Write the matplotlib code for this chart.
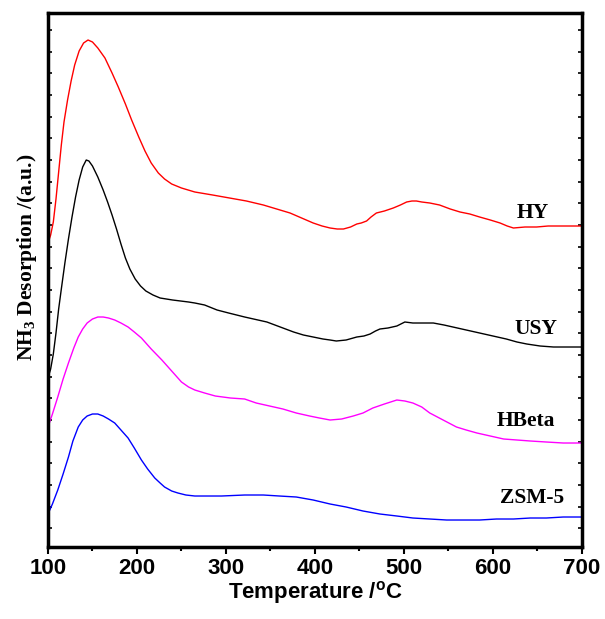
import numpy as np
import matplotlib
matplotlib.use("Agg")
import matplotlib.pyplot as plt
from matplotlib.ticker import MultipleLocator, FixedLocator, NullFormatter

# NH3-TPD curves (temperature in C, signal in a.u.)
hy_t = [100, 103, 106, 109, 112, 115, 118, 122, 126, 130, 135, 140, 145, 150, 156,
        164, 172, 179, 187, 194, 202, 209, 216, 224, 231, 239, 250, 265, 285, 304,
        323, 342, 357, 372, 385, 398, 408, 417, 425, 432, 440, 447, 452, 458, 463,
        469, 478, 488, 496, 503, 509, 514, 520, 529, 540, 552, 563, 574, 585, 597,
        608, 616, 623, 636, 649, 662, 675, 688, 700]
hy_y = [304, 312, 325, 348, 375, 402, 425, 447, 466, 482, 496, 504, 507, 505, 499,
        489, 474, 460, 443, 427, 410, 396, 384, 374, 368, 363, 359, 355, 352, 349,
        346, 342, 338, 334, 329, 324, 321, 319, 318, 318, 320, 323, 324, 326, 330,
        334, 336, 339, 342, 345, 346, 346, 345, 344, 342, 338, 335, 333, 330, 327,
        324, 321, 319, 320, 320, 321, 321, 321, 321]

usy_t = [100, 103, 106, 109, 112, 115, 119, 123, 127, 131, 135, 139, 143, 146, 150,
         156, 162, 167, 172, 177, 182, 187, 192, 198, 204, 210, 218, 226, 240, 258,
         265, 276, 290, 303, 321, 346, 364, 376, 387, 398, 409, 417, 424, 435, 447,
         455, 462, 468, 473, 482, 492, 501, 510, 518, 533, 545, 555, 570, 585, 600,
         615, 627, 638, 653, 668, 684, 700]
usy_y = [169, 178, 193, 214, 238, 258, 284, 308, 330, 350, 367, 380, 387, 386, 381,
         370, 357, 345, 332, 318, 303, 289, 278, 268, 261, 256, 252, 249, 247, 245,
         244, 242, 237, 234, 230, 225, 219, 215, 212, 210, 208, 207, 206, 207, 210,
         211, 213, 216, 218, 219, 221, 225, 224, 224, 224, 222, 220, 217, 214, 211,
         208, 205, 203, 201, 200, 200, 200]

hbeta_t = [100, 105, 111, 117, 123, 129, 134, 139, 144, 150, 156, 162, 168, 175, 182,
           190, 197, 205, 216, 228, 239, 250, 258, 265, 276, 288, 305, 321, 334, 349,
           364, 379, 394, 405, 417, 430, 443, 454, 465, 478, 492, 501, 510, 520, 529,
           544, 559, 570, 582, 597, 612, 627, 642, 660, 679, 700]
hbeta_y = [120, 133, 150, 168, 184, 199, 210, 218, 224, 228, 230, 230, 229, 227, 224,
           220, 215, 209, 198, 187, 176, 165, 160, 157, 154, 151, 149, 148, 144, 141,
           138, 134, 131, 129, 127, 128, 131, 134, 139, 143, 147, 146, 144, 140, 134,
           127, 120, 117, 114, 111, 108, 107, 106, 105, 104, 104]

zsm_t = [100, 105, 111, 117, 123, 128, 134, 139, 144, 150, 156, 162, 168, 175, 182,
         190, 197, 205, 212, 220, 226, 231, 239, 246, 255, 265, 280, 295, 321, 342,
         360, 379, 398, 417, 435, 454, 473, 492, 510, 529, 548, 567, 585, 604, 623,
         642, 660, 679, 700]
zsm_y = [33, 43, 57, 73, 90, 106, 120, 127, 131, 133, 133, 131, 128, 124, 117,
         109, 99, 87, 78, 69, 64, 60, 56, 54, 52, 51, 51, 51, 52, 52,
         51, 50, 47, 43, 40, 36, 33, 31, 29, 28, 27, 27, 27, 28, 28,
         29, 29, 30, 30]

names = ["HY", "USY", "HBeta", "ZSM-5"]
colors = ["#ff0000", "#000000", "#ff00ff", "#0000ff"]
label_x = [645, 648, 637, 644]
label_y = [334, 218, 126, 49]

plt.rcParams["mathtext.default"] = "regular"

fig = plt.figure(figsize=(6.05, 6.19), dpi=100)
ax = fig.add_axes([0.0793, 0.1163, 0.8826, 0.8627])

series = [(hy_t, hy_y), (usy_t, usy_y), (hbeta_t, hbeta_y), (zsm_t, zsm_y)]
for (t, y), c in zip(series, colors):
    ax.plot(t, y, color=c, lw=1.0)

for name, x, y in zip(names, label_x, label_y):
    ax.text(x, y, name, ha="center", va="center", fontsize=15.5,
            fontweight="bold", family="Liberation Serif")

ax.set_xlim(100, 700)
ax.set_ylim(0, 534)
ax.xaxis.set_major_locator(MultipleLocator(100))
ax.xaxis.set_minor_locator(MultipleLocator(50))
ax.yaxis.set_major_locator(FixedLocator(np.arange(-3, 534, 21.67)))
ax.yaxis.set_major_formatter(NullFormatter())

ax.tick_params(axis="x", which="major", direction="out", length=5, width=1.5,
               top=False, labelsize=16, pad=3)
ax.tick_params(axis="x", which="minor", direction="out", length=3, width=1.5, top=False)
ax.tick_params(axis="y", which="major", direction="in", length=3, width=1.2,
               left=True, right=True)
for lab in ax.get_xticklabels():
    lab.set_fontweight("bold")
    lab.set_family("Liberation Sans")

for sp in ax.spines.values():
    sp.set_linewidth(2.5)

ax.set_xlabel(r"Temperature /$^{o}$C", fontsize=16, fontweight="bold",
              family="Liberation Sans", labelpad=0)
ax.set_ylabel(r"NH$_3$ Desorption /(a.u.)", fontsize=15.5, fontweight="bold",
              family="Liberation Serif", va="center")
ax.yaxis.set_label_coords(-0.039, 0.543)

fig.savefig("out.png", dpi=100)
